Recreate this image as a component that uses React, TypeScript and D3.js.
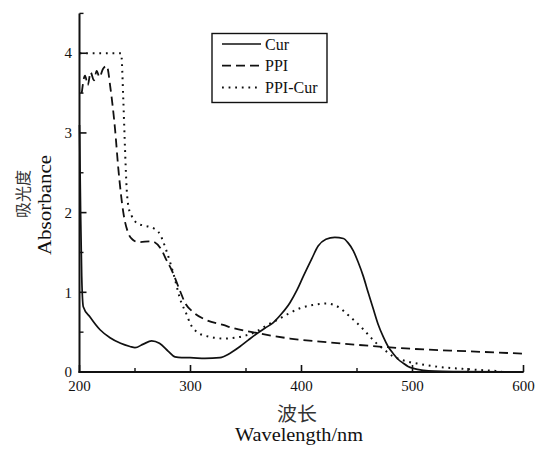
import React from "react";
import * as d3 from "d3";

const curX = [200, 201, 202, 203.4, 209.5, 218.5, 227.5, 237, 245.5, 250, 257.5, 265, 272, 280, 286, 292, 299.5, 313, 326.6, 335, 344.6, 352, 359.6, 367, 374.6, 382, 389.6, 396, 401.6, 409.2, 415, 422, 430, 437.7, 442, 446.7, 451, 455.7, 460, 464.7, 469, 473.7, 478, 482.7, 487, 491.7, 496, 500.7, 510, 520, 540, 600];
const curY = [3.1, 2.0, 1.2, 0.82, 0.69, 0.53, 0.43, 0.36, 0.32, 0.305, 0.35, 0.39, 0.36, 0.26, 0.19, 0.18, 0.18, 0.17, 0.18, 0.23, 0.32, 0.4, 0.48, 0.55, 0.62, 0.73, 0.87, 1.03, 1.2, 1.42, 1.58, 1.665, 1.69, 1.675, 1.62, 1.52, 1.38, 1.2, 1.0, 0.79, 0.6, 0.44, 0.32, 0.23, 0.16, 0.11, 0.07, 0.045, 0.02, 0.01, 0.005, 0.0];

const ppiX = [202, 205, 207.5, 210, 213, 215.5, 218, 221, 224.5, 228, 232, 235, 239.5, 244, 248, 253, 265, 274, 278.5, 283, 290.5, 295, 302.5, 314.6, 329.5, 338.6, 359.6, 389.6, 425.7, 460, 500.5, 550, 600];
const ppiY = [3.5, 3.72, 3.6, 3.76, 3.66, 3.78, 3.7, 3.8, 3.84, 3.55, 3.05, 2.55, 2.0, 1.74, 1.66, 1.63, 1.64, 1.53, 1.4, 1.28, 1.02, 0.87, 0.75, 0.65, 0.59, 0.55, 0.49, 0.42, 0.37, 0.33, 0.29, 0.26, 0.23];

const pcX = [200, 237.5, 239.5, 241, 242.5, 244.5, 247, 251.5, 257, 263.5, 271, 278.6, 284.5, 291.5, 296, 300, 306, 317.6, 330, 340, 350, 359.6, 368, 377.7, 388, 398.6, 410, 422.7, 428.6, 435, 440.7, 446, 452.7, 458, 464.7, 470, 476.8, 482, 488.7, 497, 506.8, 518, 530.8, 545, 560.8, 580];
const pcY = [4.0, 4.0, 3.4, 2.8, 2.3, 2.05, 1.96, 1.87, 1.84, 1.82, 1.76, 1.51, 1.24, 0.88, 0.74, 0.6, 0.5, 0.44, 0.42, 0.43, 0.46, 0.51, 0.58, 0.65, 0.73, 0.8, 0.84, 0.86, 0.845, 0.8, 0.73, 0.665, 0.58, 0.5, 0.4, 0.33, 0.255, 0.2, 0.16, 0.125, 0.1, 0.075, 0.054, 0.04, 0.025, 0.01];

const xMajor = [200, 300, 400, 500, 600];
const xMinor = [250, 350, 450, 550];
const yMajor = [0, 1, 2, 3, 4];
const yMinor = [0.5, 1.5, 2.5, 3.5, 4.5];

const seriesNames = ["Cur", "PPI", "PPI-Cur"];

const W = 536, H = 449;
const x = d3.scaleLinear().domain([200, 600]).range([79.5, 523.5]);
const y = d3.scaleLinear().domain([0, 4.5]).range([372, 13.4]);

const line = d3.line<[number, number]>().x(d => x(d[0])).y(d => y(d[1])).curve(d3.curveMonotoneX);
const zip = (a: number[], b: number[]) => a.map((v, i) => [v, b[i]] as [number, number]);

const styles = [
  { dash: undefined, width: 1.7 },
  { dash: "9,5", width: 1.8 },
  { dash: "1.8,4.8", width: 2 },
];

const serif = "'Liberation Serif', 'Times New Roman', serif";
const cjk = "'Noto Sans CJK SC', sans-serif";

export default function App() {
  const data = [zip(curX, curY), zip(ppiX, ppiY), zip(pcX, pcY)];
  const x0 = x(200), y0 = y(0);
  return (
    <svg width={W} height={H} style={{ position: "absolute", left: 0, top: 0, background: "#fff" }}>
      <rect x={0} y={0} width={W} height={H} fill="#fff" />
      {data.map((d, i) => (
        <path key={i} d={line(d) || ""} fill="none" stroke="#111" strokeWidth={styles[i].width}
          strokeDasharray={styles[i].dash} />
      ))}
      <line x1={x0} y1={y(4.5)} x2={x0} y2={y0 + 1} stroke="#111" strokeWidth={2} />
      <line x1={x0 - 1} y1={y0} x2={x(600)} y2={y0} stroke="#111" strokeWidth={2} />
      {xMajor.map(v => (
        <g key={"xM" + v}>
          <line x1={x(v)} x2={x(v)} y1={y0} y2={y0 - 7} stroke="#111" strokeWidth={1.6} />
          <text x={x(v)} y={391} textAnchor="middle" fontFamily={serif} fontSize={15} fill="#111">{v}</text>
        </g>
      ))}
      {xMinor.map(v => (
        <line key={"xm" + v} x1={x(v)} x2={x(v)} y1={y0} y2={y0 - 4} stroke="#111" strokeWidth={1.4} />
      ))}
      {yMajor.map(v => (
        <g key={"yM" + v}>
          <line x1={x0} x2={x0 + 7} y1={y(v)} y2={y(v)} stroke="#111" strokeWidth={1.6} />
          <text x={72} y={y(v)} dy="0.35em" textAnchor="end" fontFamily={serif} fontSize={15} fill="#111">{v}</text>
        </g>
      ))}
      {yMinor.map(v => (
        <line key={"ym" + v} x1={x0} x2={x0 + 4} y1={y(v)} y2={y(v)} stroke="#111" strokeWidth={1.4} />
      ))}
      <rect x={212} y={33.5} width={115} height={69} fill="#fff" stroke="#111" strokeWidth={1.4} />
      {seriesNames.map((n, i) => {
        const ly = 44 + i * 21.7;
        return (
          <g key={n}>
            <line x1={222} x2={261} y1={ly} y2={ly} stroke="#111" strokeWidth={styles[i].width}
              strokeDasharray={styles[i].dash} />
            <text x={265} y={ly} dy="0.36em" fontFamily={serif} fontSize={16} fill="#111">{n}</text>
          </g>
        );
      })}
      <text transform="translate(29,194) rotate(-90)" textAnchor="middle" fontFamily={cjk} fontSize={16}
        fill="#333" textLength={48} lengthAdjust="spacingAndGlyphs">吸光度</text>
      <text transform="translate(51,205) rotate(-90)" textAnchor="middle" fontFamily={serif} fontSize={18}
        fill="#111" textLength={100} lengthAdjust="spacingAndGlyphs">Absorbance</text>
      <text x={297} y={421} textAnchor="middle" fontFamily={cjk} fontSize={19} fill="#333"
        textLength={40} lengthAdjust="spacingAndGlyphs">波长</text>
      <text x={299} y={441} textAnchor="middle" fontFamily={serif} fontSize={18} fill="#111"
        textLength={128} lengthAdjust="spacingAndGlyphs">Wavelength/nm</text>
    </svg>
  );
}
